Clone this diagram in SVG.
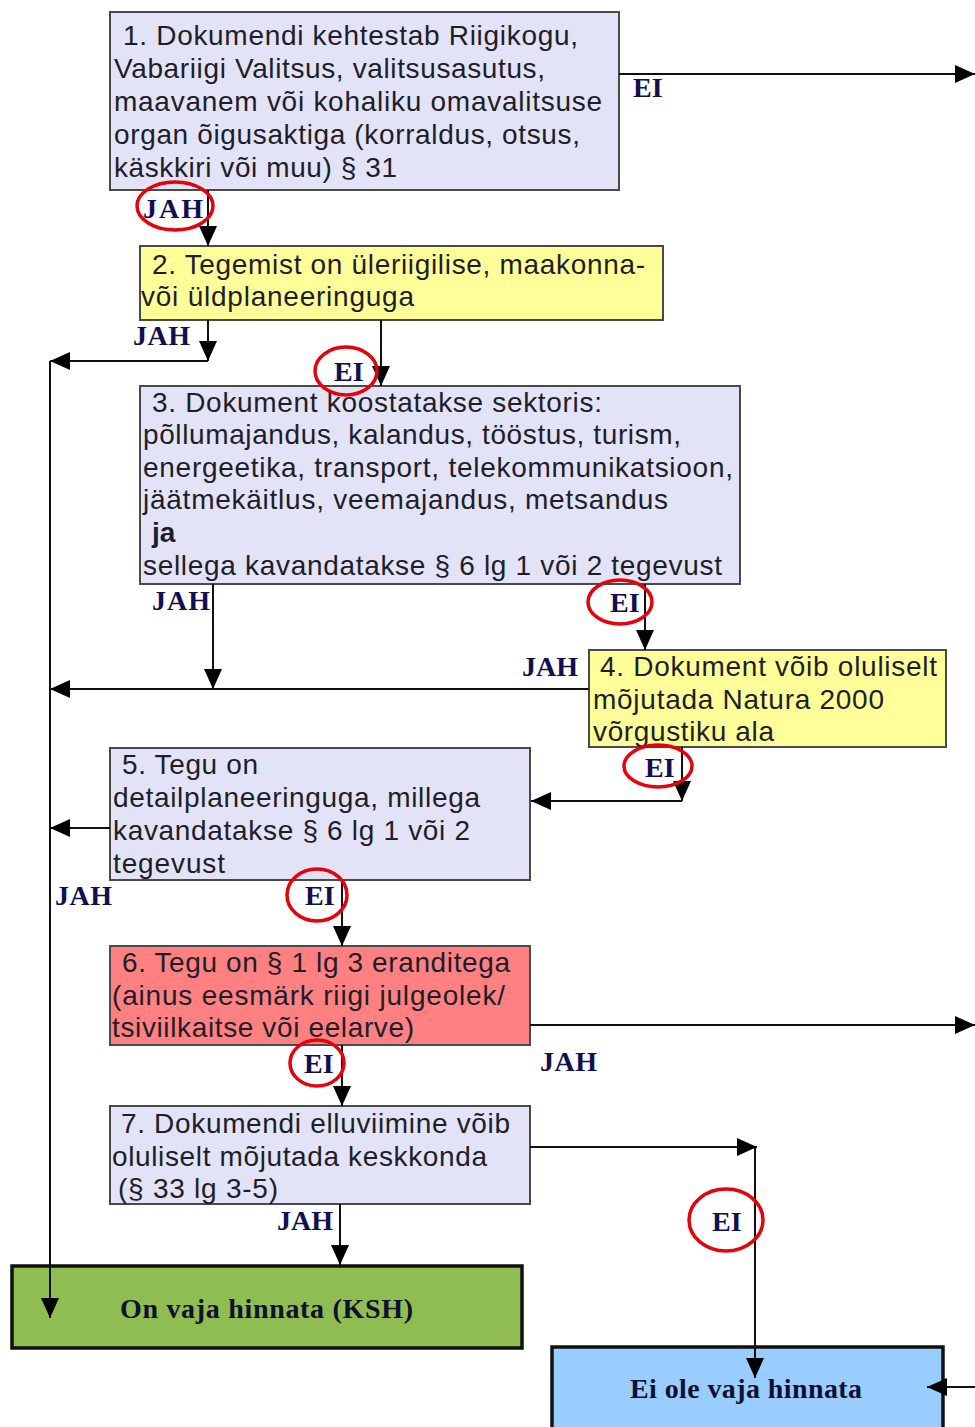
<svg xmlns="http://www.w3.org/2000/svg" width="975" height="1427" viewBox="0 0 975 1427">
<style>
.box{stroke:#4a4a4a;stroke-width:2}
.lav{fill:#e3e3f7}
.yel{fill:#ffff99}
.red{fill:#ff8080}
.t{font-family:"Liberation Sans",Arial,sans-serif;font-size:28px;fill:#1e1e2a}
.b{font-weight:bold}
.lbl{font-family:"Liberation Serif","Times New Roman",serif;font-size:28px;font-weight:bold;fill:#101050}
.big{font-family:"Liberation Serif","Times New Roman",serif;font-size:28px;font-weight:bold;fill:#101030}
.ln{fill:none;stroke:#111;stroke-width:2}
.arr{marker-end:url(#ah)}
.circ{fill:none;stroke:#e8000a;stroke-width:3.5}
</style>
<defs>
<marker id="ah" markerUnits="userSpaceOnUse" markerWidth="20" markerHeight="20" refX="20" refY="10" orient="auto" viewBox="0 0 20 20">
<path d="M0,1 L20,10 L0,19 z" fill="#000"/>
</marker>
</defs>
<rect width="975" height="1427" fill="#fff"/>

<g id="node1">
<rect class="box lav" x="110" y="12" width="509" height="178"/>
<text class="t" x="123" y="45" textLength="455">1. Dokumendi kehtestab Riigikogu,</text>
<text class="t" x="114" y="78" textLength="431">Vabariigi Valitsus, valitsusasutus,</text>
<text class="t" x="114" y="111" textLength="488">maavanem või kohaliku omavalitsuse</text>
<text class="t" x="114" y="144" textLength="466">organ õigusaktiga (korraldus, otsus,</text>
<text class="t" x="114" y="177" textLength="283">käskkiri või muu) § 31</text>
</g>

<g id="node2">
<rect class="box yel" x="140" y="246" width="523" height="74"/>
<text class="t" x="152" y="274" textLength="493">2. Tegemist on üleriigilise, maakonna-</text>
<text class="t" x="141" y="306" textLength="273">või üldplaneeringuga</text>
</g>

<g id="node3">
<rect class="box lav" x="140" y="386" width="600" height="198"/>
<text class="t" x="152" y="412" textLength="450">3. Dokument koostatakse sektoris:</text>
<text class="t" x="143" y="444" textLength="538">põllumajandus, kalandus, tööstus, turism,</text>
<text class="t" x="143" y="477" textLength="590">energeetika, transport, telekommunikatsioon,</text>
<text class="t" x="143" y="509" textLength="525">jäätmekäitlus, veemajandus, metsandus</text>
<text class="t b" x="152" y="542">ja</text>
<text class="t" x="143" y="575" textLength="579">sellega kavandatakse § 6 lg 1 või 2 tegevust</text>
</g>

<g id="node4">
<rect class="box yel" x="589" y="650" width="357" height="97"/>
<text class="t" x="600" y="676" textLength="337">4. Dokument võib oluliselt</text>
<text class="t" x="593" y="709" textLength="291">mõjutada Natura 2000</text>
<text class="t" x="593" y="741" textLength="181">võrgustiku ala</text>
</g>

<g id="node5">
<rect class="box lav" x="110" y="748" width="420" height="132"/>
<text class="t" x="122" y="774" textLength="136">5. Tegu on</text>
<text class="t" x="113" y="807" textLength="367">detailplaneeringuga, millega</text>
<text class="t" x="113" y="840" textLength="357">kavandatakse § 6 lg 1 või 2</text>
<text class="t" x="113" y="873" textLength="112">tegevust</text>
</g>

<g id="node6">
<rect class="box red" x="110" y="946" width="420" height="99"/>
<text class="t" x="122" y="972" textLength="388">6. Tegu on § 1 lg 3 eranditega</text>
<text class="t" x="112" y="1005" textLength="393">(ainus eesmärk riigi julgeolek/</text>
<text class="t" x="112" y="1037" textLength="302">tsiviilkaitse või eelarve)</text>
</g>

<g id="node7">
<rect class="box lav" x="110" y="1106" width="420" height="98"/>
<text class="t" x="121" y="1133" textLength="389">7. Dokumendi elluviimine võib</text>
<text class="t" x="112" y="1166" textLength="375">oluliselt mõjutada keskkonda</text>
<text class="t" x="118" y="1198" textLength="160">(§ 33 lg 3-5)</text>
</g>

<g id="nodeKSH">
<rect x="12" y="1266" width="510" height="82" fill="#8fbd52" stroke="#111" stroke-width="3.5"/>
<text class="big" x="120" y="1318" textLength="293">On vaja hinnata (KSH)</text>
</g>

<g id="nodeEi">
<rect x="552" y="1347" width="391" height="90" fill="#9acdff" stroke="#111" stroke-width="3.5"/>
<text class="big" x="630" y="1398" textLength="232">Ei ole vaja hinnata</text>
</g>

<g id="connectors">
<path class="ln arr" d="M208 190 V246"/>
<path class="ln arr" d="M619 74 H975"/>
<path class="ln arr" d="M208 320 V361"/>
<path class="ln arr" d="M208 361 H50"/>
<path class="ln arr" d="M50 361 V1318"/>
<path class="ln arr" d="M381 320 V386"/>
<path class="ln arr" d="M213 584 V689"/>
<path class="ln arr" d="M589 689 H50"/>
<path class="ln arr" d="M645 584 V650"/>
<path class="ln arr" d="M682 747 V801"/>
<path class="ln arr" d="M682 801 H531"/>
<path class="ln arr" d="M110 828 H50"/>
<path class="ln arr" d="M342 880 V946"/>
<path class="ln arr" d="M530 1025 H975"/>
<path class="ln arr" d="M342 1045 V1106"/>
<path class="ln arr" d="M340 1204 V1265"/>
<path class="ln arr" d="M530 1147 H757"/>
<path class="ln arr" d="M755 1147 V1378"/>
<path class="ln arr" d="M975 1387 H927"/>
</g>

<g id="labels">
<text class="lbl" x="143" y="218" textLength="60">JAH</text>
<text class="lbl" x="633" y="97">EI</text>
<text class="lbl" x="133" y="345" textLength="57">JAH</text>
<text class="lbl" x="334" y="381">EI</text>
<text class="lbl" x="152" y="610" textLength="58">JAH</text>
<text class="lbl" x="610" y="612">EI</text>
<text class="lbl" x="522" y="676" textLength="56">JAH</text>
<text class="lbl" x="645" y="777">EI</text>
<text class="lbl" x="55" y="905" textLength="57">JAH</text>
<text class="lbl" x="305" y="905">EI</text>
<text class="lbl" x="540" y="1071" textLength="57">JAH</text>
<text class="lbl" x="304" y="1073">EI</text>
<text class="lbl" x="277" y="1230" textLength="56">JAH</text>
<text class="lbl" x="712" y="1231">EI</text>
</g>

<g id="highlights">
<ellipse class="circ" cx="175" cy="206" rx="38" ry="24"/>
<ellipse class="circ" cx="346" cy="371" rx="31" ry="24"/>
<ellipse class="circ" cx="620" cy="602" rx="32" ry="22"/>
<ellipse class="circ" cx="658" cy="766" rx="34" ry="21"/>
<ellipse class="circ" cx="317" cy="895" rx="30" ry="26"/>
<ellipse class="circ" cx="317" cy="1063" rx="27" ry="23"/>
<ellipse class="circ" cx="726" cy="1220" rx="37" ry="31"/>
</g>
</svg>
